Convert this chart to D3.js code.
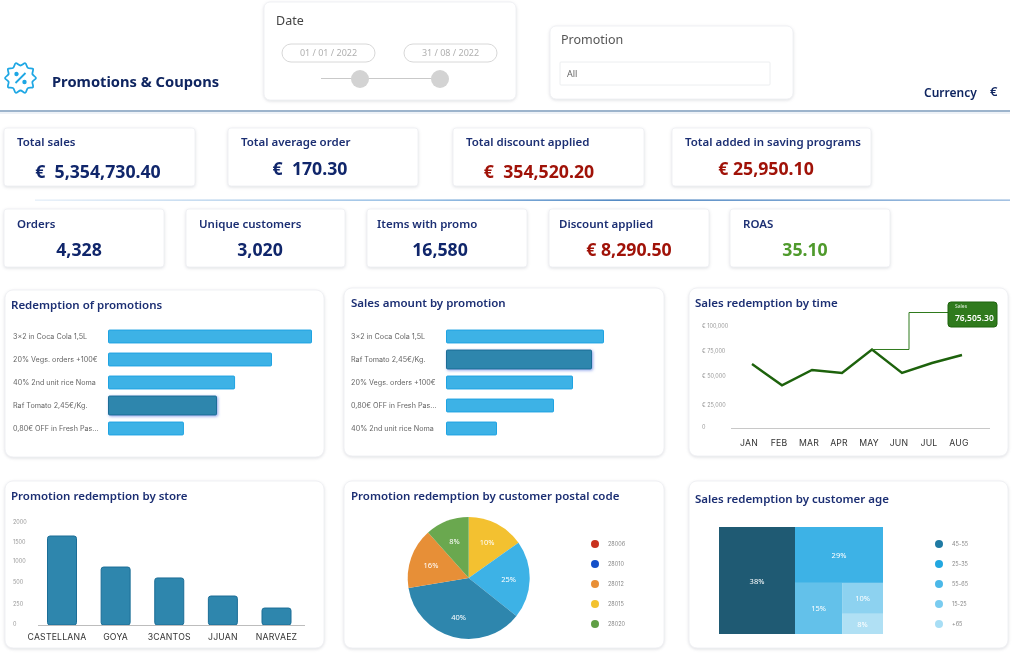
<!DOCTYPE html>
<html>
<head>
<meta charset="utf-8">
<script src="https://cdn.jsdelivr.net/npm/d3@7"></script>
<style>
  html, body { margin: 0; background: #fff; }
  svg { display: block; font-family: "Noto Sans", "Open Sans", sans-serif; filter: blur(0.45px); }
  .card { fill: #fff; stroke: #f0f1f4; filter: drop-shadow(0 1px 1.5px rgba(60,70,90,.16)); }
  .panelTitle { fill: #1c2f73; font-size: 11.5px; font-weight: 600; }
  .kpiLabel { fill: #1c2f73; font-size: 11.5px; font-weight: 600; }
  .kpiValue { font-size: 17.7px; font-weight: 700; text-anchor: middle; }
  .catLabel { fill: #666; font-family: Inter, sans-serif; font-size: 7.2px; }
  .tickLabel { fill: #999; font-family: Inter, sans-serif; font-size: 5.5px; }
  .monthLabel { fill: #333; font-family: Inter, sans-serif; font-size: 8.7px; letter-spacing: .2px; }
  .legendLabel { fill: #888; font-family: Inter, sans-serif; font-size: 5.5px; }
  .sliceLabel { fill: #fff; font-size: 7.5px; text-anchor: middle; }
</style>
</head>
<body>
<div id="chart"></div>
<script>
// kpis
var kpiRow1Labels = ["Total sales", "Total average order", "Total discount applied", "Total added in saving programs"];
var kpiRow1Values = ["€  5,354,730.40", "€  170.30", "€  354,520.20", "€ 25,950.10"];
var kpiRow2Labels = ["Orders", "Unique customers", "Items with promo", "Discount applied", "ROAS"];
var kpiRow2Values = ["4,328", "3,020", "16,580", "€ 8,290.50", "35.10"];

// horizontal bars
var redemptionNames = ["3x2 in Coca Cola 1,5L", "20% Vegs. orders +100€", "40% 2nd unit rice Noma", "Raf Tomato 2,45€/Kg.", "0,80€ OFF in Fresh Pas..."];
var redemptionValues = [1000, 803, 621, 532, 369];
var salesNames = ["3x2 in Coca Cola 1,5L", "Raf Tomato 2,45€/Kg.", "20% Vegs. orders +100€", "0,80€ OFF in Fresh Pas...", "40% 2nd unit rice Noma"];
var salesValues = [157, 145, 126, 107, 50];

// line
var months = ["JAN", "FEB", "MAR", "APR", "MAY", "JUN", "JUL", "AUG"];
var monthSales = [62000, 42000, 56000, 53000, 76505.30, 53000, 63000, 71000];
var lineTicks = [0, 25000, 50000, 75000, 100000];
var lineTickLabels = ["0", "€ 25,000", "€ 50,000", "€ 75,000", "€ 100,000"];

// stores
var stores = ["CASTELLANA", "GOYA", "3CANTOS", "JJUAN", "NARVAEZ"];
var storeValues = [1675, 880, 620, 352, 212];
var storeTicks = [0, 250, 500, 1000, 1500, 2000];

// pie, the printed labels do not follow the slice sizes in the picture
var pieShares = [15.2, 20.5, 36.7, 16, 11.6];
var pieLabels = ["10%", "25%", "40%", "16%", "8%"];
var pieColors = ["#f3c130", "#3db2e6", "#2e86ad", "#e78f37", "#6aa84f"];
var postalCodes = ["28006", "28010", "28012", "28015", "28020"];
var postalColors = ["#c8321e", "#1450c8", "#e88f36", "#f3c22f", "#5f9e44"];

// treemap, same thing
var ageShares = [46.3, 28, 13.7, 7.2, 4.7];
var ageLabels = ["38%", "29%", "15%", "10%", "8%"];
var ageColors = ["#1f5a73", "#3db2e6", "#63c1ea", "#8dd2f0", "#b0e0f4"];
var ageGroups = ["45-55", "25-35", "55-65", "15-25", "+65"];
var ageLegendColors = ["#1f7aa3", "#22a7e0", "#4bb8e8", "#7accf0", "#a8def5"];

var navy = "#10266b", red = "#a01208", green = "#4f9a2c";

var svg = d3.select("#chart").append("svg").attr("width", 1021).attr("height", 657);
var defs = svg.append("defs");
var grad = defs.append("linearGradient").attr("id", "ruleGrad");
grad.append("stop").attr("offset", "0").attr("stop-color", "#e4eef8");
grad.append("stop").attr("offset", "0.4").attr("stop-color", "#7fb0de");
grad.append("stop").attr("offset", "0.6").attr("stop-color", "#2a6db5");
grad.append("stop").attr("offset", "1").attr("stop-color", "#8fb4dc");
var glow = defs.append("filter").attr("id", "glow").attr("x", "-20%").attr("y", "-50%").attr("width", "140%").attr("height", "200%");
glow.append("feDropShadow").attr("dx", 1).attr("dy", 1).attr("stdDeviation", 1.6).attr("flood-color", "#5a78e0").attr("flood-opacity", 0.7);

function card(x0, y0, x1, y1, r) {
    svg.append("rect").attr("class", "card")
        .attr("x", x0).attr("y", y0)
        .attr("width", x1 - x0).attr("height", y1 - y0)
        .attr("rx", r);
}

function title(text, x, y) {
    svg.append("text").attr("class", "panelTitle").attr("x", x).attr("y", y).text(text);
}

/* HEADER */
var badge = d3.lineRadial().curve(d3.curveCardinalClosed)
    .angle(function (d) { return d * Math.PI / 10; })
    .radius(function (d) { return d % 2 ? 15.5 : 12.5; });
var icon = svg.append("g").attr("transform", "translate(20.5,78)")
    .attr("fill", "none").attr("stroke", "#1ea7e4").attr("stroke-width", 1.8);
icon.append("path").attr("d", badge(d3.range(20)));
icon.append("line").attr("x1", -5).attr("y1", 5).attr("x2", 5).attr("y2", -5);
icon.append("circle").attr("cx", -4).attr("cy", -4).attr("r", 1.3).attr("fill", "#1ea7e4");
icon.append("circle").attr("cx", 4).attr("cy", 4).attr("r", 1.3).attr("fill", "#1ea7e4");

svg.append("text").attr("x", 52).attr("y", 87).attr("fill", "#0f2560")
    .attr("font-size", 14.7).attr("font-weight", 700).text("Promotions & Coupons");

card(264, 2, 516, 100, 6);
svg.append("text").attr("x", 276).attr("y", 25).attr("fill", "#444").attr("font-size", 12.5).text("Date");
[[282, "01 / 01 / 2022"], [404, "31 / 08 / 2022"]].forEach(function (d) {
    svg.append("rect").attr("x", d[0]).attr("y", 44).attr("width", 93).attr("height", 18).attr("rx", 9)
        .attr("fill", "#fff").attr("stroke", "#d8d8d8");
    svg.append("text").attr("x", d[0] + 46.5).attr("y", 56).attr("text-anchor", "middle")
        .attr("fill", "#b0b0b0").attr("font-size", 9).text(d[1]);
});
svg.append("line").attr("x1", 321).attr("x2", 432).attr("y1", 78.5).attr("y2", 78.5).attr("stroke", "#c9c9c9");
[360, 440].forEach(function (x) {
    svg.append("circle").attr("cx", x).attr("cy", 79).attr("r", 9).attr("fill", "#d3d3d3");
});

card(550, 26, 793, 99, 6);
svg.append("text").attr("x", 561).attr("y", 44).attr("fill", "#555").attr("font-size", 12.5).text("Promotion");
svg.append("rect").attr("x", 560).attr("y", 62).attr("width", 210).attr("height", 23).attr("rx", 1)
    .attr("fill", "#fff").attr("stroke", "#eceef0");
svg.append("text").attr("x", 567).attr("y", 77).attr("fill", "#666").attr("font-size", 9).text("All");

svg.append("text").attr("x", 924).attr("y", 97).attr("fill", "#0f2560").attr("font-size", 12)
    .attr("font-weight", 600).text("Currency");
svg.append("text").attr("x", 990).attr("y", 96).attr("fill", "#0f2560").attr("font-size", 13)
    .attr("font-weight", 600).text("€");

svg.append("rect").attr("x", 0).attr("y", 110).attr("width", 1010).attr("height", 2).attr("fill", "#9db4cc");
svg.append("rect").attr("x", 0).attr("y", 112).attr("width", 1010).attr("height", 2).attr("fill", "#eef2f7");
svg.append("rect").attr("x", 35).attr("y", 199.5).attr("width", 975).attr("height", 1.3).attr("fill", "url(#ruleGrad)");

/* KPIS */
var row1Boxes = [[4, 195, 17, 98, 178, navy], [228, 418, 241, 310, 175, navy], [453, 644, 466, 539, 178, red], [672, 871, 685, 766, 175, red]];
kpiRow1Labels.forEach(function (label, i) {
    var b = row1Boxes[i];
    card(b[0], 128, b[1], 186, 3);
    svg.append("text").attr("class", "kpiLabel").attr("x", b[2]).attr("y", 146).text(label);
    svg.append("text").attr("class", "kpiValue").attr("x", b[3]).attr("y", b[4]).attr("fill", b[5])
        .attr("xml:space", "preserve").text(kpiRow1Values[i]);
});
var row2Boxes = [[4, 164, 17, 79, navy], [186, 345, 199, 260, navy], [367, 527, 377, 440, navy], [549, 709, 559, 629, red], [730, 890, 743, 805, green]];
kpiRow2Labels.forEach(function (label, i) {
    var b = row2Boxes[i];
    card(b[0], 209, b[1], 267, 3);
    svg.append("text").attr("class", "kpiLabel").attr("x", b[2]).attr("y", 228).text(label);
    svg.append("text").attr("class", "kpiValue").attr("x", b[3]).attr("y", 256).attr("fill", b[4]).text(kpiRow2Values[i]);
});

/* PANELS */
card(5, 290, 324, 457, 8);
card(344, 288, 664, 456, 8);
card(689, 288, 1008, 456, 8);
card(5, 481, 324, 648, 8);
card(344, 481, 664, 648, 8);
card(689, 481, 1008, 648, 8);

title("Redemption of promotions", 11, 309);
title("Sales amount by promotion", 351, 307);
title("Sales redemption by time", 695, 307);
title("Promotion redemption by store", 11, 500);
title("Promotion redemption by customer postal code", 351, 500);
title("Sales redemption by customer age", 695, 503);

function hBars(names, values, maxValue, x0, x1, labelX, highlighted) {
    var x = d3.scaleLinear().domain([0, maxValue]).range([x0, x1]);
    var y = d3.scaleBand().domain(names).range([325, 440]).paddingInner(0.44).paddingOuter(0.22);
    var g = svg.append("g");
    g.selectAll("rect").data(names).enter().append("rect")
        .attr("x", x0 + 0.5)
        .attr("y", function (d) { return y(d) - (d === highlighted ? 3 : 0); })
        .attr("width", function (d, i) { return x(values[i]) - x0; })
        .attr("height", function (d) { return y.bandwidth() + (d === highlighted ? 6 : 0); })
        .attr("rx", 1)
        .attr("fill", function (d) { return d === highlighted ? "#2e86ad" : "#3db2e6"; })
        .attr("stroke", function (d) { return d === highlighted ? "#1b6d96" : "#1fa3e2"; })
        .attr("filter", function (d) { return d === highlighted ? "url(#glow)" : null; });
    g.selectAll("text").data(names).enter().append("text")
        .attr("class", "catLabel")
        .attr("x", labelX)
        .attr("y", function (d) { return y(d) + y.bandwidth() / 2 + 2; })
        .text(function (d) { return d; });
}
hBars(redemptionNames, redemptionValues, 1000, 108, 311, 13, "Raf Tomato 2,45€/Kg.");
hBars(salesNames, salesValues, 157, 446, 603, 351, "Raf Tomato 2,45€/Kg.");

/* LINE */
var lineX = d3.scalePoint().domain(months).range([752, 962]);
var lineY = d3.scaleLinear().domain(lineTicks).range([427, 405, 376, 351, 326]);
svg.append("g").selectAll("text").data(lineTicks).enter().append("text")
    .attr("class", "tickLabel").attr("x", 702)
    .attr("y", function (d) { return lineY(d) + 2; })
    .text(function (d, i) { return lineTickLabels[i]; });
svg.append("line").attr("x1", 731).attr("x2", 990).attr("y1", 428.5).attr("y2", 428.5).attr("stroke", "#c8c8c8");
svg.append("g").selectAll("text").data(months).enter().append("text")
    .attr("class", "monthLabel").attr("text-anchor", "middle")
    .attr("x", function (d) { return lineX(d) - 3; }).attr("y", 446)
    .text(function (d) { return d; });
var line = d3.line()
    .x(function (d, i) { return lineX(months[i]); })
    .y(function (d) { return lineY(d); });
svg.append("path").attr("d", line(monthSales)).attr("fill", "none")
    .attr("stroke", "#1d620c").attr("stroke-width", 2.4);

// tooltip on the peak month
var peak = months.indexOf("MAY");
var peakX = lineX("MAY"), peakY = lineY(monthSales[peak]);
svg.append("path").attr("fill", "none").attr("stroke", "#2f7a1d").attr("stroke-width", 1)
    .attr("d", d3.line()([[peakX, peakY], [909, peakY], [909, 312.5], [948, 312.5]]));
svg.append("rect").attr("x", 948).attr("y", 302).attr("width", 49).attr("height", 25).attr("rx", 3)
    .attr("fill", "#2f7a1d").attr("stroke", "#1d620c");
svg.append("text").attr("x", 955).attr("y", 308).attr("fill", "#dfeeda").attr("font-size", 5).text("Sales");
svg.append("text").attr("x", 955).attr("y", 321).attr("fill", "#fff").attr("font-size", 8.5)
    .attr("font-weight", 600).text(d3.format(",.2f")(monthSales[peak]));

/* STORES */
var storeX = d3.scalePoint().domain(stores).range([62, 276.5]);
var storeY = d3.scaleLinear().domain(storeTicks).range([625, 605, 583, 562, 543, 523]);
svg.append("g").selectAll("text").data(storeTicks).enter().append("text")
    .attr("class", "tickLabel").attr("x", 13)
    .attr("y", function (d) { return storeY(d) + 1; })
    .text(function (d) { return d; });
svg.append("g").selectAll("rect").data(stores).enter().append("rect")
    .attr("x", function (d) { return storeX(d) - 14.5; })
    .attr("y", function (d, i) { return storeY(storeValues[i]); })
    .attr("width", 29)
    .attr("height", function (d, i) { return storeY(0) - storeY(storeValues[i]); })
    .attr("rx", 2.5)
    .attr("fill", "#2e86ad").attr("stroke", "#1b6d96");
svg.append("line").attr("x1", 38).attr("x2", 305).attr("y1", 625.5).attr("y2", 625.5).attr("stroke", "#bdbdbd");
svg.append("g").selectAll("text").data(stores).enter().append("text")
    .attr("class", "monthLabel").attr("text-anchor", "middle")
    .attr("x", function (d) { return storeX(d) - (d === "CASTELLANA" ? 5 : 0); }).attr("y", 640)
    .text(function (d) { return d; });

/* PIE */
var pieG = svg.append("g").attr("transform", "translate(468.7,578)");
var arc = d3.arc().innerRadius(0).outerRadius(61);
var labelArc = d3.arc().innerRadius(40).outerRadius(40);
var pieData = d3.pie().sort(null)(pieShares);
pieG.selectAll("path").data(pieData).enter().append("path")
    .attr("d", arc)
    .attr("fill", function (d, i) { return pieColors[i]; });
pieG.selectAll("text").data(pieData).enter().append("text")
    .attr("class", "sliceLabel")
    .attr("transform", function (d) { return "translate(" + labelArc.centroid(d) + ")"; })
    .attr("dy", 3)
    .text(function (d, i) { return pieLabels[i]; });

function legend(names, colors, cx, labelX) {
    var y = d3.scalePoint().domain(names).range([544, 624]);
    var g = svg.append("g");
    g.selectAll("circle").data(names).enter().append("circle")
        .attr("cx", cx)
        .attr("cy", function (d) { return y(d); })
        .attr("r", 4)
        .attr("fill", function (d, i) { return colors[i]; });
    g.selectAll("text").data(names).enter().append("text")
        .attr("class", "legendLabel")
        .attr("x", labelX)
        .attr("y", function (d) { return y(d) + 2; })
        .text(function (d) { return d; });
}
legend(postalCodes, postalColors, 595, 608);

/* TREEMAP */
var tree = {children: [
    {i: 0, value: ageShares[0]},
    {children: [
        {i: 1, value: ageShares[1]},
        {children: [
            {i: 2, value: ageShares[2]},
            {children: [
                {i: 3, value: ageShares[3]},
                {i: 4, value: ageShares[4]}
            ]}
        ]}
    ]}
]};
var root = d3.hierarchy(tree).sum(function (d) { return d.value || 0; });
d3.treemap()
    .size([164, 107])
    .tile(function (node, x0, y0, x1, y1) {
        (node.depth % 2 ? d3.treemapSlice : d3.treemapDice)(node, x0, y0, x1, y1);
    })(root);
var treeG = svg.append("g").attr("transform", "translate(719,527)");
var leaves = treeG.selectAll("g").data(root.leaves()).enter().append("g");
leaves.append("rect")
    .attr("x", function (d) { return d.x0; })
    .attr("y", function (d) { return d.y0; })
    .attr("width", function (d) { return d.x1 - d.x0; })
    .attr("height", function (d) { return d.y1 - d.y0; })
    .attr("fill", function (d) { return ageColors[d.data.i]; });
leaves.append("text")
    .attr("class", "sliceLabel")
    .attr("x", function (d) { return (d.x0 + d.x1) / 2; })
    .attr("y", function (d) { return (d.y0 + d.y1) / 2 + 3; })
    .text(function (d) { return ageLabels[d.data.i]; });
legend(ageGroups, ageLegendColors, 939, 952);
</script>
</body>
</html>
